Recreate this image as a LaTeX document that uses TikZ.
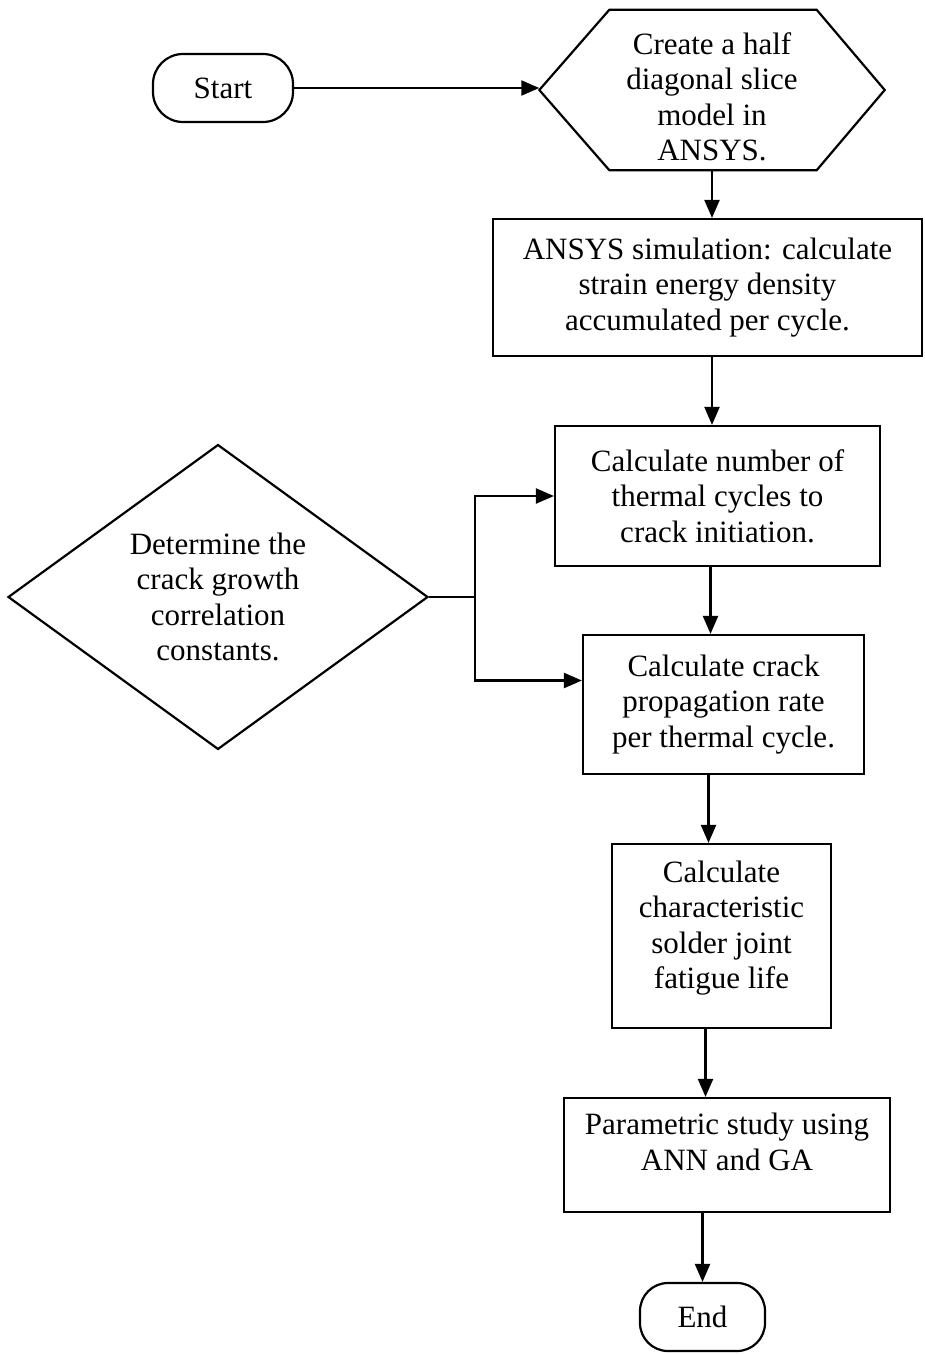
\documentclass[tikz,border=0pt]{standalone}
\usepackage{fontspec}
\setmainfont{Liberation Serif}
\usetikzlibrary{shapes.geometric,arrows.meta,calc}
\begin{document}
\begin{tikzpicture}[x=1pt,y=-1pt,
  every node/.style={font=\fontsize{31}{35.5}\selectfont, align=center, inner sep=0pt},
  ln/.style={line width=2.2pt},
  box/.style={draw, ln, rectangle},
  term/.style={draw, ln, rectangle, rounded corners=30pt},
  arr/.style={ln, -{Triangle[length=18pt,width=15pt]}},
  ]
\useasboundingbox (0,0) rectangle (924,1354);
% nodes
\node[term, minimum width=140pt, minimum height=68pt] (start) at (223,88) {Start};
\node[minimum width=345pt, minimum height=160pt] (hex) at (712,90) {};
\draw[ln, line join=miter] (hex.west) -- ($(hex.north west)+(70,0)$) -- ($(hex.north east)+(-68,0)$)
   -- (hex.east) -- ($(hex.south east)+(-68,0)$) -- ($(hex.south west)+(70,0)$) -- cycle;
\node (hextxt) at ($(hex.center)+(0,7)$) {Create a half\\diagonal slice\\model in\\ANSYS.};
\node[box, minimum width=429pt, minimum height=137pt] (box2) at (707.5,287.5)
  {ANSYS simulation: calculate\\strain energy density\\accumulated per cycle.};
\node[box, minimum width=325pt, minimum height=140pt] (box3) at (717.5,496)
  {Calculate number of\\thermal cycles to\\crack initiation.};
\node[box, minimum width=281pt, minimum height=139pt] (box4) at (723.5,704.5)
  {Calculate crack\\propagation rate\\per thermal cycle.};
\node[box, minimum width=219pt, minimum height=184pt] (box5) at (721.5,936) {};
\node (box5txt) at ($(box5.center)+(0,-8)$) {Calculate\\characteristic\\solder joint\\fatigue life};
\node[box, minimum width=326pt, minimum height=114pt] (box6) at (727,1155) {};
\node (box6txt) at ($(box6.center)+(0,-13)$) {Parametric study using\\ANN and GA};
\node[term, rounded corners=28pt, minimum width=125pt, minimum height=68pt] (end) at (702.5,1317) {End};
\node[draw, ln, diamond, minimum width=420pt, minimum height=301pt] (diam) at (218,597)
  {Determine the\\crack growth\\correlation\\constants.};
% connectors
\draw[arr] (start.east) -- (start.east -| hex.west);
\draw[arr] (hex.south) -- (hex.south |- box2.north);
\draw[arr] (box2.south -| hex.south) -- (box3.north -| hex.south);
\coordinate (c34) at ($(box3.south)+(-7,0)$);
\draw[arr] (c34) -- (c34 |- box4.north);
\coordinate (c45) at ($(box4.south)+(-15,0)$);
\draw[arr] (c45) -- (c45 |- box5.north);
\coordinate (c56) at ($(box5.south)+(-16,0)$);
\draw[arr] (c56) -- (c56 |- box6.north);
\coordinate (c6e) at (end.north |- box6.south);
\draw[arr] (c6e) -- (end.north);
\coordinate (fork) at (475,597);
\coordinate (in4) at ($(box4.west)+(0,-24)$);
\draw[ln] (diam.east) -- (diam.east -| fork);
\draw[arr] (diam.east -| fork) |- (box3.west);
\draw[arr] (diam.east -| fork) |- (in4);
\end{tikzpicture}
\end{document}
